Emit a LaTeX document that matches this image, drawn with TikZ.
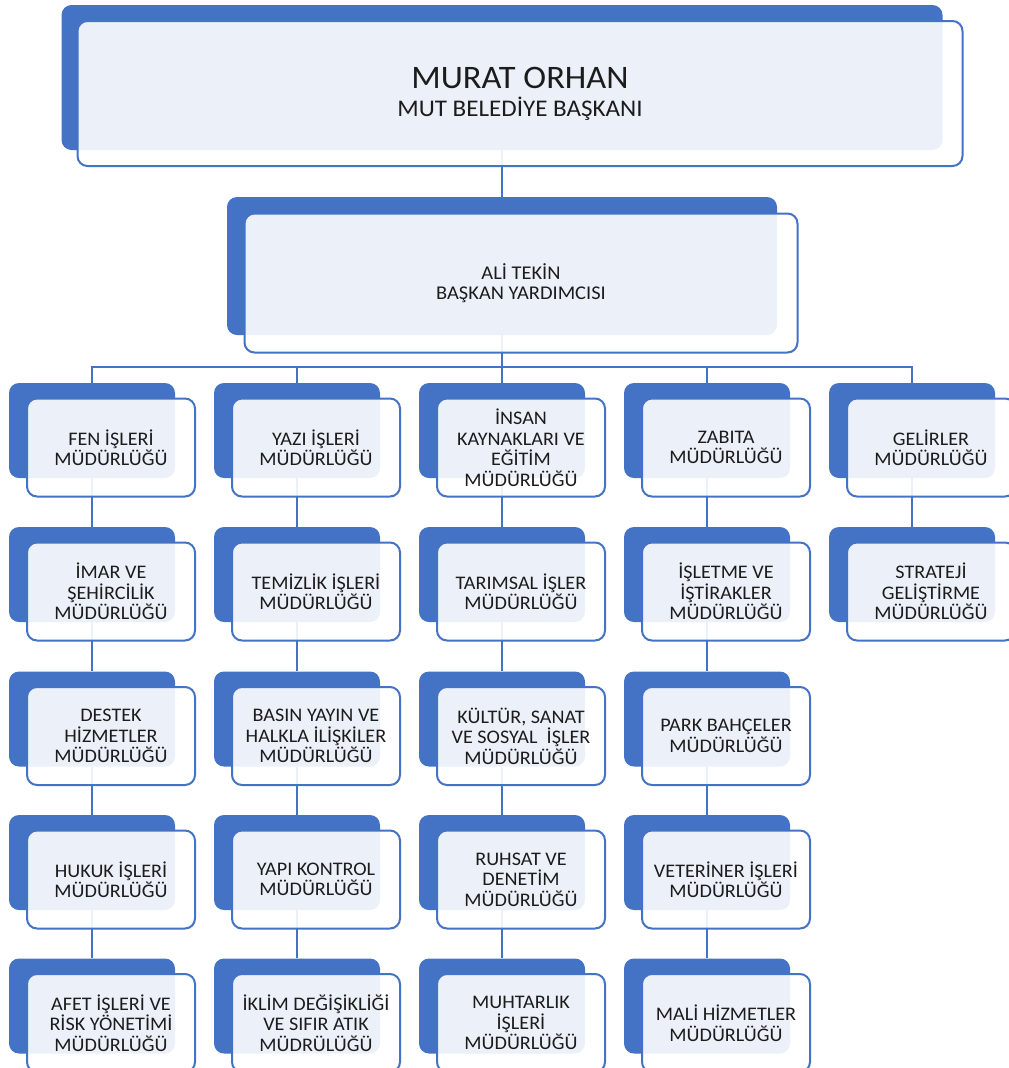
\documentclass[tikz,border=0pt]{standalone}
\usepackage{fontspec}
\setmainfont{Carlito}[FakeStretch=1.05]
\usepackage{tikz}
\usetikzlibrary{positioning}
\pgfdeclarelayer{bg}
\pgfsetlayers{bg,main}
\definecolor{orgblue}{HTML}{4472C4}
\definecolor{orgtext}{HTML}{1C1C1C}
\tikzset{
	backbox/.style={fill=orgblue, rounded corners=7.5pt, inner sep=0pt,
		minimum width=124.5pt, minimum height=71.25pt},
	frontbox/.style={draw=orgblue, line width=1.5pt, fill=white, fill opacity=0.9,
		text opacity=1, text=orgtext, rounded corners=7.5pt, inner sep=0pt, align=center,
		minimum width=126pt, minimum height=73.5pt, font=\fontsize{14.4}{15.4}\selectfont},
	link/.style={draw=orgblue, line width=1.5pt},
}
% one unit: blue card behind, light card with the name in front
\newcommand{\dept}[4]{%
	\node[backbox] (#1b) at (#2,#3) {};
	\node[frontbox] (#1) at ([shift={(19,17)}]#2,#3) {#4};
}

\begin{document}
\begin{tikzpicture}[x=0.75pt, y=-0.75pt]
	\useasboundingbox (0,0) rectangle (1008,1068);
	% mayor and deputy
	\node[backbox, minimum width=660.75pt, minimum height=108.75pt] (mayorb) at (502,77.5) {};
	\node[frontbox, minimum width=663.75pt, minimum height=108.75pt, font=\fontsize{17.9}{20}\selectfont] (mayor) at (520,93.5)
		{{\fontsize{24.6}{20}\selectfont MURAT ORHAN}\\[1pt]MUT BELEDİYE BAŞKANI};
	\node[backbox, minimum width=412.5pt, minimum height=103.5pt] (deputyb) at (502,266) {};
	\node[frontbox, minimum width=414.75pt, minimum height=104.25pt, font=\fontsize{14.6}{15.4}\selectfont] (deputy) at (521,283)
		{ALİ TEKİN\\BAŞKAN YARDIMCISI};
	\coordinate (bus) at (502,367);

	\dept{fen}{92}{430.5}{FEN İŞLERİ\\MÜDÜRLÜĞÜ}
	\dept{imar}{92}{574.5}{İMAR VE\\ŞEHİRCİLİK\\MÜDÜRLÜĞÜ}
	\dept{destek}{92}{719}{DESTEK\\HİZMETLER\\MÜDÜRLÜĞÜ}
	\dept{hukuk}{92}{862.5}{HUKUK İŞLERİ\\MÜDÜRLÜĞÜ}
	\dept{afet}{92}{1006}{AFET İŞLERİ VE\\RİSK YÖNETİMİ\\MÜDÜRLÜĞÜ}

	\dept{yazi}{297}{430.5}{YAZI İŞLERİ\\MÜDÜRLÜĞÜ}
	\dept{temiz}{297}{574.5}{TEMİZLİK İŞLERİ\\MÜDÜRLÜĞÜ}
	\dept{basin}{297}{719}{BASIN YAYIN VE\\HALKLA İLİŞKİLER\\MÜDÜRLÜĞÜ}
	\dept{yapi}{297}{862.5}{YAPI KONTROL\\MÜDÜRLÜĞÜ}
	\dept{iklim}{297}{1006}{İKLİM DEĞİŞİKLİĞİ\\VE SIFIR ATIK\\MÜDRÜLÜĞÜ}

	\dept{insan}{502}{430.5}{İNSAN\\KAYNAKLARI VE\\EĞİTİM\\MÜDÜRLÜĞÜ}
	\dept{tarim}{502}{574.5}{TARIMSAL İŞLER\\MÜDÜRLÜĞÜ}
	\dept{kultur}{502}{719}{KÜLTÜR, SANAT\\VE SOSYAL\ \ İŞLER\\MÜDÜRLÜĞÜ}
	\dept{ruhsat}{502}{862.5}{RUHSAT VE\\DENETİM\\MÜDÜRLÜĞÜ}
	\dept{muhtar}{502}{1006}{MUHTARLIK\\İŞLERİ\\MÜDÜRLÜĞÜ}

	\dept{zabita}{707}{430.5}{ZABITA\\MÜDÜRLÜĞÜ}
	\dept{isletme}{707}{574.5}{İŞLETME VE\\İŞTİRAKLER\\MÜDÜRLÜĞÜ}
	\dept{park}{707}{719}{PARK BAHÇELER\\MÜDÜRLÜĞÜ}
	\dept{veteriner}{707}{862.5}{VETERİNER İŞLERİ\\MÜDÜRLÜĞÜ}
	\dept{mali}{707}{1006}{MALİ HİZMETLER\\MÜDÜRLÜĞÜ}

	\dept{gelir}{912}{430.5}{GELİRLER\\MÜDÜRLÜĞÜ}
	\dept{strateji}{912}{574.5}{STRATEJİ\\GELİŞTİRME\\MÜDÜRLÜĞÜ}

	% connectors, behind the cards
	\begin{pgfonlayer}{bg}
	\draw[link] (mayorb) -- (deputyb);
	\draw[link] (deputyb) -- (bus);
	\draw[link] (bus) -| (fenb.north);
	\draw[link] (bus) -| (yazib.north);
	\draw[link] (bus) -- (insanb.north);
	\draw[link] (bus) -| (zabitab.north);
	\draw[link] (bus) -| (gelirb.north);
	\draw[link] (fenb) -- (imarb) (imarb) -- (destekb) (destekb) -- (hukukb) (hukukb) -- (afetb);
	\draw[link] (yazib) -- (temizb) (temizb) -- (basinb) (basinb) -- (yapib) (yapib) -- (iklimb);
	\draw[link] (insanb) -- (tarimb) (tarimb) -- (kulturb) (kulturb) -- (ruhsatb) (ruhsatb) -- (muhtarb);
	\draw[link] (zabitab) -- (isletmeb) (isletmeb) -- (parkb) (parkb) -- (veterinerb) (veterinerb) -- (malib);
	\draw[link] (gelirb) -- (stratejib);
	\end{pgfonlayer}
\end{tikzpicture}
\end{document}
